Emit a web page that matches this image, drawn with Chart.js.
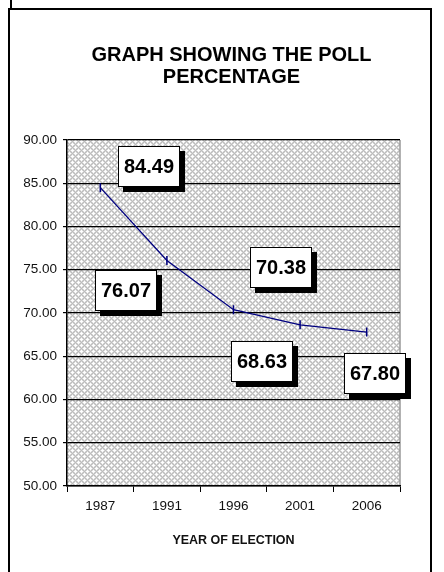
<!DOCTYPE html>
<html>
<head>
<meta charset="utf-8">
<script src="https://cdn.jsdelivr.net/npm/chart.js@4.4.1/dist/chart.umd.min.js"></script>
<style>
    html, body { margin: 0; padding: 0; background: #fff; }
    body { width: 444px; height: 572px; position: relative; overflow: hidden; }
    #frame { position: absolute; left: 8px; top: 8px; width: 420px; height: 620px; border: 2px solid #000; }
    #nick { position: absolute; left: 10px; top: 0; width: 2px; height: 9px; background: #000; }
    #wrap { position: absolute; left: 0; top: 0; width: 444px; height: 572px; }
</style>
</head>
<body>
<div id="nick"></div>
<div id="frame"></div>
<div id="wrap"><canvas id="myChart"></canvas></div>
<script>
const years = ['1987', '1991', '1996', '2001', '2006'];
const pollPercent = [84.49, 76.07, 70.38, 68.63, 67.80];
const yTicks = [50, 55, 60, 65, 70, 75, 80, 85, 90];
const titleLines = ['GRAPH SHOWING THE POLL', 'PERCENTAGE'];
const xTitle = 'YEAR OF ELECTION';

const FONT = "'Liberation Sans', Arial, sans-serif";

// where each value box sits, relative to its point (px)
const boxOffsets = [[49, -21], [-41, 30], [47, -42], [-38, 37], [8, 41]];

// grey checker fill like the old excel pattern
function makePattern(ctx) {
    const c = document.createElement('canvas');
    c.width = 6;
    c.height = 6;
    const p = c.getContext('2d');
    p.fillStyle = '#bcbcbc';
    p.fillRect(0, 0, 6, 6);
    for (let x = 0; x < 6; x++) {
        for (let y = 0; y < 6; y++) {
            const d1 = Math.abs(x - 3) + Math.abs(y - 3);
            const dx = Math.min(x, 6 - x), dy = Math.min(y, 6 - y);
            const d2 = dx + dy;
            if (d1 <= 1 || d2 <= 1) {
                p.fillStyle = '#ffffff';
                p.fillRect(x, y, 1, 1);
            } else if (d1 === 2 || d2 === 2) {
                p.fillStyle = '#d8d8d8';
                p.fillRect(x, y, 1, 1);
            }
        }
    }
    return ctx.createPattern(c, 'repeat');
}

const hatchBackground = {
    id: 'hatchBackground',
    beforeDraw(chart) {
        const { ctx, chartArea: a } = chart;
        ctx.save();
        ctx.fillStyle = makePattern(ctx);
        ctx.fillRect(a.left, a.top, a.right - a.left, a.bottom - a.top);
        ctx.strokeStyle = '#999';
        ctx.lineWidth = 1.5;
        ctx.beginPath();
        ctx.moveTo(a.right, a.top);
        ctx.lineTo(a.right, a.bottom);
        ctx.stroke();
        ctx.restore();
    }
};

const headTitle = {
    id: 'headTitle',
    afterDraw(chart) {
        const { ctx, chartArea: a } = chart;
        ctx.save();
        ctx.font = 'bold 20px ' + FONT;
        ctx.fillStyle = '#000';
        ctx.textAlign = 'center';
        ctx.textBaseline = 'middle';
        const cx = (a.left + a.right) / 2 - 2;
        titleLines.forEach((t, i) => {
            ctx.fillText(t, cx, a.top - 85 + i * 22);
        });
        ctx.restore();
    }
};

const valueBoxes = {
    id: 'valueBoxes',
    afterDatasetsDraw(chart) {
        const { ctx } = chart;
        const meta = chart.getDatasetMeta(0);
        const w = 62, h = 41;
        ctx.save();
        ctx.font = 'bold 20px ' + FONT;
        ctx.textAlign = 'center';
        ctx.textBaseline = 'middle';
        meta.data.forEach((pt, i) => {
            const cx = pt.x + boxOffsets[i][0];
            const cy = pt.y + boxOffsets[i][1];
            const x0 = Math.round(cx - w / 2), y0 = Math.round(cy - h / 2);
            ctx.fillStyle = '#000';
            ctx.fillRect(x0 + 5, y0 + 5, w, h);
            ctx.fillStyle = '#fff';
            ctx.fillRect(x0, y0, w, h);
            ctx.strokeStyle = '#000';
            ctx.lineWidth = 1;
            ctx.strokeRect(x0 + 0.5, y0 + 0.5, w - 1, h - 1);
            ctx.fillStyle = '#000';
            ctx.fillText(pollPercent[i].toFixed(2), x0 + w / 2, y0 + h / 2 + 1);
        });
        ctx.restore();
    }
};

const data = {
    labels: years,
    datasets: [{
        label: 'Poll percentage',
        data: pollPercent,
        borderColor: '#000080',
        backgroundColor: '#000080',
        borderWidth: 1.3,
        tension: 0,
        pointStyle: 'line',
        rotation: 90,
        pointRadius: 4.5,
        pointBorderWidth: 1.5,
        pointBorderColor: '#000080'
    }]
};

const config = {
    type: 'line',
    data: data,
    plugins: [hatchBackground, headTitle, valueBoxes],
    options: {
        responsive: true,
        maintainAspectRatio: false,
        animation: false,
        layout: {
            padding: { left: 10, right: 44, top: 140, bottom: 0 }
        },
        plugins: {
            legend: { display: false },
            tooltip: { enabled: false }
        },
        scales: {
            x: {
                offset: true,
                afterFit: (scale) => { scale.height = 86; },
                grid: {
                    offset: true,
                    drawOnChartArea: false,
                    drawTicks: true,
                    tickLength: 6,
                    color: '#000',
                    lineWidth: 1
                },
                border: { color: '#000', width: 1.5 },
                ticks: {
                    color: '#111',
                    padding: 6,
                    font: { family: FONT, size: 13.5 }
                },
                title: {
                    display: true,
                    text: xTitle,
                    color: '#111',
                    padding: { top: 0, bottom: 24 },
                    font: { family: FONT, size: 12.5, weight: 'bold' }
                }
            },
            y: {
                min: 50,
                max: 90,
                afterFit: (scale) => { scale.width = 57; },
                afterBuildTicks: (scale) => {
                    scale.ticks = yTicks.map(v => ({ value: v }));
                },
                grid: {
                    color: '#000',
                    lineWidth: 1.2,
                    tickLength: 4
                },
                border: { color: '#000', width: 1.5 },
                ticks: {
                    color: '#111',
                    padding: 6,
                    font: { family: FONT, size: 13.5 },
                    callback: (v) => Number(v).toFixed(2)
                }
            }
        }
    }
};

const myChart = new Chart(
    document.getElementById('myChart'),
    config
);
</script>
</body>
</html>
